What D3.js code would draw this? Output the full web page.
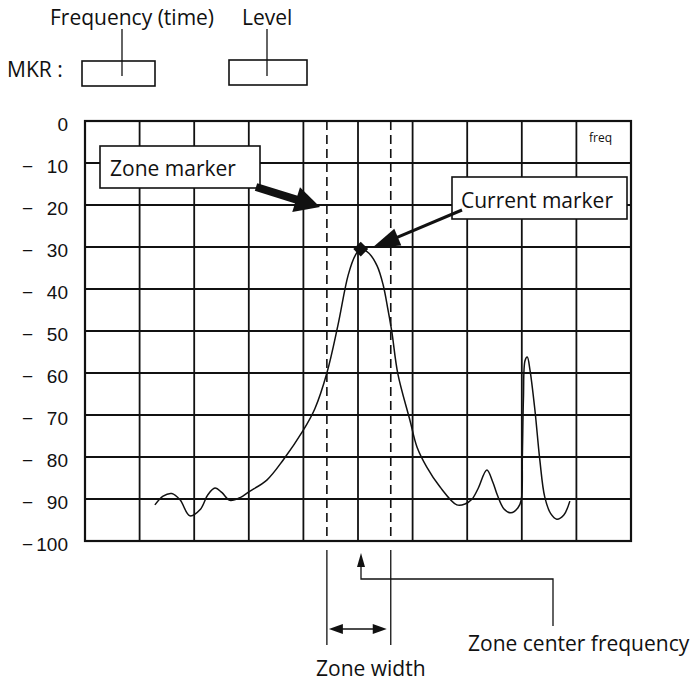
<!DOCTYPE html>
<html><head><meta charset="utf-8">
<script src="https://cdn.jsdelivr.net/npm/d3@7"></script>
<style>
html,body{margin:0;padding:0;background:#fff;}
svg{display:block;}
.ann{font-family:"Open Sans",sans-serif;fill:#111;}
.tick{font-family:"Liberation Sans",Arial,sans-serif;fill:#111;}
</style></head>
<body>
<svg id="c" width="690" height="681"></svg>
<script>
// ---- data ----
const yTicks = [0, -10, -20, -30, -40, -50, -60, -70, -80, -90, -100];
const tickLabels = ["0", "10", "20", "30", "40", "50", "60", "70", "80", "90", "100"];
const xDivisions = [0, 1, 2, 3, 4, 5, 6, 7, 8, 9, 10];
const specFreq = [1.28,1.43,1.59,1.74,1.92,2.11,2.25,2.38,2.51,2.65,2.85,3.0,3.33,3.63,3.99,4.21,4.43,4.63,4.82,4.95,5.05,5.2,5.35,5.46,5.55,5.62,5.73,5.95,6.08,6.26,6.5,6.81,6.96,7.09,7.2,7.36,7.47,7.55,7.67,7.8,7.93,7.99,8.01,8.03,8.06,8.1,8.15,8.24,8.33,8.42,8.53,8.64,8.77,8.88];
const specLevel = [-91.4,-89.3,-88.7,-90.2,-94,-92.5,-89,-87.4,-88.5,-90.3,-89.6,-88.3,-85.5,-80.7,-73.8,-68.5,-60,-48.8,-36.7,-32,-30.5,-31.5,-34.5,-39,-45,-50.2,-60.2,-71.2,-77.6,-82.4,-87.1,-91.4,-91.2,-90,-87.5,-83.1,-86,-89,-92.3,-93.3,-92.1,-90.2,-80,-66,-57,-56.2,-59.3,-68.8,-80.7,-89.5,-93.5,-94.8,-93.8,-90.5];
const zoneLeft = 4.43, zoneRight = 5.6, zoneCenter = 5.0;
const markerFreq = 5.05, markerLevel = -30.5;

// ---- scales ----
const x = d3.scaleLinear().domain([0, 10]).range([85, 631]);
const y = d3.scaleLinear().domain([-100, 0]).range([541, 121]);
const svg = d3.select("#c");
const ink = "#111";
const FS = 21;

// top annotation
svg.append("text").attr("class","ann").attr("x",50).attr("y",25).attr("font-size",FS).text("Frequency (time)");
svg.append("text").attr("class","ann").attr("x",242).attr("y",25).attr("font-size",FS).text("Level");
svg.append("text").attr("class","ann").attr("x",7).attr("y",77).attr("font-size",FS).text("MKR :");
svg.append("rect").attr("x",82).attr("y",61).attr("width",73).attr("height",25).attr("fill","none").attr("stroke",ink).attr("stroke-width",1.6);
svg.append("rect").attr("x",229).attr("y",60).attr("width",78).attr("height",25).attr("fill","none").attr("stroke",ink).attr("stroke-width",1.6);
svg.append("line").attr("x1",122).attr("x2",122).attr("y1",29).attr("y2",76).attr("stroke",ink).attr("stroke-width",1.3);
svg.append("line").attr("x1",267).attr("x2",267).attr("y1",29).attr("y2",76).attr("stroke",ink).attr("stroke-width",1.3);

// grid
const g = svg.append("g");
g.selectAll("line.h").data(yTicks).join("line")
  .attr("x1",x(0)).attr("x2",x(10)).attr("y1",d=>y(d)).attr("y2",d=>y(d))
  .attr("stroke",ink).attr("stroke-width",1.8);
g.selectAll("line.v").data(xDivisions).join("line")
  .attr("y1",y(0)).attr("y2",y(-100)).attr("x1",d=>x(d)).attr("x2",d=>x(d))
  .attr("stroke",ink).attr("stroke-width",1.8);
g.append("rect").attr("x",x(0)).attr("y",y(0)).attr("width",x(10)-x(0)).attr("height",y(-100)-y(0))
  .attr("fill","none").attr("stroke",ink).attr("stroke-width",2.2);

// tick labels
svg.selectAll("text.tl").data(yTicks).join("text").attr("class","tick")
  .attr("x",68).attr("y",d=>y(d)+10).attr("text-anchor","end").attr("font-size",19)
  .text((d,i)=>tickLabels[i]);
svg.selectAll("text.mn").data(yTicks.filter(d=>d<0)).join("text").attr("class","tick")
  .attr("x",22).attr("y",d=>y(d)+10).attr("font-size",19).text("\u2212");

svg.append("text").attr("class","ann").attr("x",589).attr("y",142).attr("font-size",12).text("freq");

// zone lines
[zoneLeft, zoneRight].forEach(f=>{
  svg.append("line").attr("x1",x(f)).attr("x2",x(f)).attr("y1",y(0)).attr("y2",y(-100))
    .attr("stroke",ink).attr("stroke-width",1.6).attr("stroke-dasharray","9,5");
  svg.append("line").attr("x1",x(f)).attr("x2",x(f)).attr("y1",550).attr("y2",645)
    .attr("stroke",ink).attr("stroke-width",1.3);
});

// spectrum
const pts = specFreq.map((f,i)=>[f, specLevel[i]]);
const line = d3.line().x(d=>x(d[0])).y(d=>y(d[1])).curve(d3.curveCatmullRom.alpha(0.5));
svg.append("path").attr("d",line(pts)).attr("fill","none").attr("stroke",ink).attr("stroke-width",1.5);

// marker diamond
svg.append("path").attr("d",d3.symbol().type(d3.symbolSquare).size(110)())
  .attr("transform",`translate(${x(markerFreq)},${y(markerLevel)}) rotate(45)`).attr("fill",ink);

// zone marker label
svg.append("rect").attr("x",100).attr("y",146).attr("width",160).attr("height",42).attr("fill","#fff").attr("stroke",ink).attr("stroke-width",1.6);
svg.append("text").attr("class","ann").attr("x",110).attr("y",176).attr("font-size",FS).text("Zone marker");
function arrow(x0,y0,x1,y1,w,hl,hw){
  const dx=x1-x0, dy=y1-y0, L=Math.hypot(dx,dy), ux=dx/L, uy=dy/L;
  const bx=x1-ux*hl, by=y1-uy*hl, nx=-uy, ny=ux;
  svg.append("line").attr("x1",x0).attr("y1",y0).attr("x2",bx+ux*2).attr("y2",by+uy*2).attr("stroke",ink).attr("stroke-width",w);
  svg.append("path").attr("d",`M${x1},${y1}L${bx+nx*hw},${by+ny*hw}L${bx-nx*hw},${by-ny*hw}Z`).attr("fill",ink);
}
arrow(256,187,320,207,8,25,13);

// current marker label
svg.append("rect").attr("x",452).attr("y",177).attr("width",175).attr("height",42).attr("fill","#fff").attr("stroke",ink).attr("stroke-width",1.6);
svg.append("text").attr("class","ann").attr("x",461).attr("y",208).attr("font-size",FS).text("Current marker");
arrow(462,210,372,248,3,28,9);

// zone center frequency
const cx = x(zoneCenter)+3;
svg.append("path").attr("d",`M${cx},562V579H553V626`).attr("fill","none").attr("stroke",ink).attr("stroke-width",1.3);
svg.append("path").attr("d",`M${cx},553L${cx-4},567L${cx+4},567Z`).attr("fill",ink);
svg.append("text").attr("class","ann").attr("x",468).attr("y",651).attr("font-size",FS).text("Zone center frequency");

// zone width arrow
const zl = x(zoneLeft)+2, zr = x(zoneRight)-4, ay = 629;
svg.append("line").attr("x1",zl+10).attr("x2",zr-10).attr("y1",ay).attr("y2",ay).attr("stroke",ink).attr("stroke-width",1.6);
svg.append("path").attr("d",`M${zl},${ay}L${zl+14},${ay-5}L${zl+14},${ay+5}Z`).attr("fill",ink);
svg.append("path").attr("d",`M${zr},${ay}L${zr-14},${ay-5}L${zr-14},${ay+5}Z`).attr("fill",ink);
svg.append("text").attr("class","ann").attr("x",(x(zoneLeft)+x(zoneRight))/2+12).attr("y",676).attr("text-anchor","middle").attr("font-size",FS).text("Zone width");
</script>
</body></html>
